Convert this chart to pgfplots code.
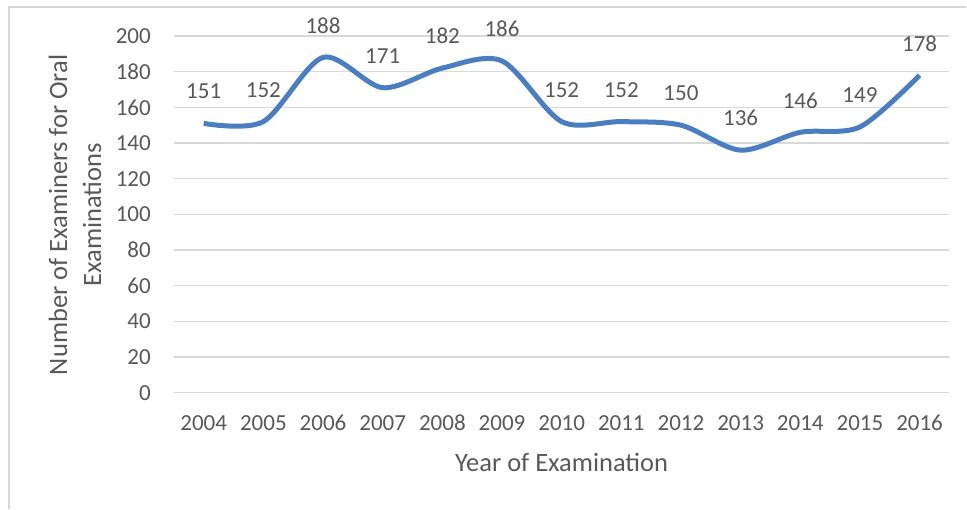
\documentclass[border=0pt]{standalone}
\usepackage{pgfplots}
\pgfplotsset{compat=1.18}
\usepackage{fontspec}
\setmainfont{Carlito}
\definecolor{txt}{HTML}{595959}
\definecolor{grd}{HTML}{D9D9D9}
\definecolor{ln}{RGB}{74,126,193}
\begin{document}
\begin{tikzpicture}[x=1pt,y=1pt]
\path (0,0) rectangle (967,509);
\draw[grd, line width=1.2pt] (9,0) -- (9,502) -- (967,502);
\begin{axis}[
  at={(174pt,116pt)}, anchor=south west,
  scale only axis, width=776pt, height=357pt,
  xmin=-0.5, xmax=12.5, ymin=0, ymax=200,
  xtick={0,...,12},
  xticklabels={2004,2005,2006,2007,2008,2009,2010,2011,2012,2013,2014,2015,2016},
  ytick={0,20,...,200},
  ymajorgrids, major grid style={grd, line width=1.2pt},
  axis line style={draw=none},
  tick style={draw=none},
  /pgf/number format/assume math mode=true,
  ticklabel style={font=\fontsize{23}{28}\selectfont, text=txt},
  yticklabel style={inner sep=0pt, anchor=east, xshift=-23pt},
  xticklabel style={inner sep=0pt, anchor=center, yshift=-30pt},
  clip=false,
]
\draw[grd, line width=1.2pt] (rel axis cs:0,0) -- (rel axis cs:1,0);
\addplot[ln, line width=5pt, smooth, tension=0.5,
  nodes near coords,
  every node near coord/.append style={font=\fontsize{23}{28}\selectfont, text=txt, anchor=center, yshift=32pt}]
coordinates {(0,151)(1,152)(2,188)(3,171)(4,182)(5,186)(6,152)(7,152)(8,150)(9,136)(10,146)(11,149)(12,178)};
\node[font=\fontsize{26.5}{32}\selectfont, text=txt] at (axis cs:6,0) [yshift=-70pt] {Year of Examination};
\end{axis}
\node[font=\fontsize{26.5}{34}\selectfont, text=txt, rotate=90, align=center, inner sep=0pt] at (75,294) {Number of Examiners for Oral\\Examinations};
\end{tikzpicture}
\end{document}
